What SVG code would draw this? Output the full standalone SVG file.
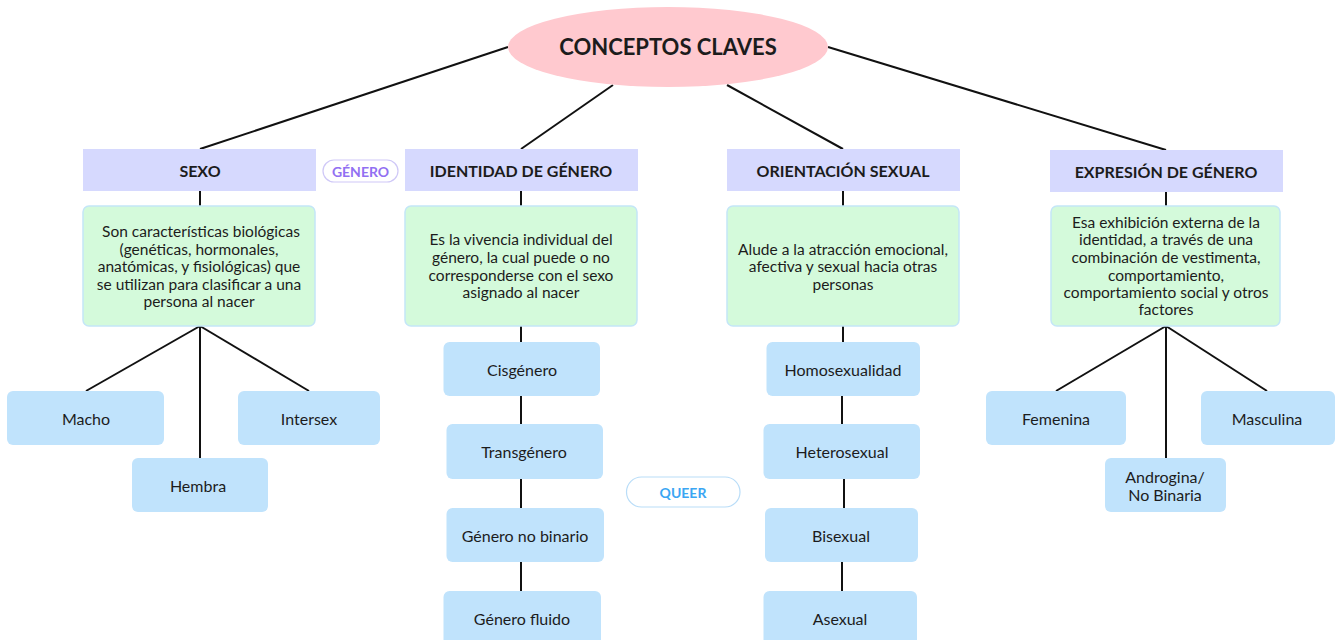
<svg xmlns="http://www.w3.org/2000/svg" width="1342" height="640" viewBox="0 0 1342 640">
<style>
.hdr{fill:#d6d9fe}
.dsc{fill:#d4fadb;stroke:#c4e6f7;stroke-width:1.5}
.leaf{fill:#c0e3fc}
text{font-family:Lato,"Open Sans","Liberation Sans",sans-serif;fill:#1c1c1c;text-anchor:middle;dominant-baseline:central}
.ht{font-size:16px;font-weight:bold}
.dt{font-size:15.5px}
.lt{font-size:16px}
#conn line{stroke:#111;stroke-width:2;fill:none}
</style>
<rect width="1342" height="640" fill="#ffffff"/>
<g id="conn">
<line x1="508" y1="47" x2="200" y2="149"/>
<line x1="613" y1="85" x2="521" y2="149"/>
<line x1="727" y1="85" x2="843" y2="149"/>
<line x1="828" y1="47" x2="1166" y2="150"/>
<line x1="200" y1="191" x2="200" y2="206"/>
<line x1="521" y1="191" x2="521" y2="206"/>
<line x1="843" y1="191" x2="843" y2="206"/>
<line x1="1166" y1="192" x2="1166" y2="206"/>
<line x1="200" y1="326" x2="86" y2="391"/>
<line x1="200" y1="326" x2="200" y2="458"/>
<line x1="200" y1="326" x2="309" y2="391"/>
<line x1="521" y1="326" x2="521" y2="342"/>
<line x1="521" y1="396" x2="521" y2="424"/>
<line x1="521" y1="479" x2="521" y2="508"/>
<line x1="521" y1="562" x2="521" y2="591"/>
<line x1="843" y1="326" x2="843" y2="342"/>
<line x1="842" y1="396" x2="842" y2="424"/>
<line x1="844" y1="479" x2="844" y2="508"/>
<line x1="842" y1="562" x2="842" y2="591"/>
<line x1="1166" y1="326" x2="1056" y2="391"/>
<line x1="1166" y1="326" x2="1166" y2="458"/>
<line x1="1166" y1="326" x2="1267" y2="391"/>
</g>
<g id="root">
<ellipse cx="668" cy="47" rx="160" ry="40" fill="#ffc9cf"/>
<text x="668" y="46" style="font-size:22px;font-weight:bold">CONCEPTOS CLAVES</text>
</g>
<g id="genero-tag">
<rect x="323" y="160" width="75" height="22" rx="11" fill="#fff" stroke="#cfc8f7" stroke-width="1.2"/>
<text x="360.5" y="171" style="font-size:14px;font-weight:bold;fill:#9270f2">GÉNERO</text>
</g>
<g id="queer-tag">
<rect x="626.5" y="477" width="113.5" height="30" rx="15" fill="#fff" stroke="#b9ddf8" stroke-width="1.2"/>
<text x="683" y="492" style="font-size:14px;font-weight:bold;fill:#3ba6f3">QUEER</text>
</g>
<g id="sexo">
<rect class="hdr" x="83" y="149" width="233" height="42"/>
<text class="ht" x="200" y="170">SEXO</text>
</g>
<g id="identidad">
<rect class="hdr" x="405" y="149" width="233" height="42"/>
<text class="ht" x="521" y="170">IDENTIDAD DE GÉNERO</text>
</g>
<g id="orientacion">
<rect class="hdr" x="727" y="149" width="233" height="42"/>
<text class="ht" x="843" y="170">ORIENTACIÓN SEXUAL</text>
</g>
<g id="expresion">
<rect class="hdr" x="1050" y="150" width="233" height="42"/>
<text class="ht" x="1166" y="171">EXPRESIÓN DE GÉNERO</text>
</g>
<g id="sexo-desc">
<rect class="dsc" x="83" y="206" width="232" height="120" rx="6"/>
<text class="dt" x="201" y="231">Son características biológicas</text>
<text class="dt" x="199" y="249">(genéticas, hormonales,</text>
<text class="dt" x="199" y="266">anatómicas, y fisiológicas) que</text>
<text class="dt" x="199" y="284">se utilizan para clasificar a una</text>
<text class="dt" x="199" y="301">persona al nacer</text>
</g>
<g id="identidad-desc">
<rect class="dsc" x="405" y="206" width="232" height="120" rx="6"/>
<text class="dt" x="521" y="239">Es la vivencia individual del</text>
<text class="dt" x="521" y="257">género, la cual puede o no</text>
<text class="dt" x="521" y="275">corresponderse con el sexo</text>
<text class="dt" x="521" y="292">asignado al nacer</text>
</g>
<g id="orientacion-desc">
<rect class="dsc" x="727" y="206" width="232" height="120" rx="6"/>
<text class="dt" x="843" y="249">Alude a la atracción emocional,</text>
<text class="dt" x="843" y="266">afectiva y sexual hacia otras</text>
<text class="dt" x="843" y="284">personas</text>
</g>
<g id="expresion-desc">
<rect class="dsc" x="1051" y="206" width="229" height="120" rx="6"/>
<text class="dt" x="1166" y="222">Esa exhibición externa de la</text>
<text class="dt" x="1166" y="239">identidad, a través de una</text>
<text class="dt" x="1166" y="257">combinación de vestimenta,</text>
<text class="dt" x="1166" y="275">comportamiento,</text>
<text class="dt" x="1166" y="292">comportamiento social y otros</text>
<text class="dt" x="1166" y="309">factores</text>
</g>
<g id="macho">
<rect class="leaf" x="7" y="391" width="157" height="54" rx="6"/>
<text class="lt" x="86" y="418">Macho</text>
</g>
<g id="intersex">
<rect class="leaf" x="238" y="391" width="142" height="54" rx="6"/>
<text class="lt" x="309" y="418">Intersex</text>
</g>
<g id="hembra">
<rect class="leaf" x="132" y="458" width="136" height="54" rx="6"/>
<text class="lt" x="198" y="485">Hembra</text>
</g>
<g id="cisgenero">
<rect class="leaf" x="443.5" y="342" width="156.5" height="54" rx="6"/>
<text class="lt" x="522" y="369">Cisgénero</text>
</g>
<g id="transgenero">
<rect class="leaf" x="446.5" y="424" width="156.5" height="55" rx="6"/>
<text class="lt" x="524" y="451">Transgénero</text>
</g>
<g id="nobinario">
<rect class="leaf" x="446.5" y="508" width="157.5" height="54" rx="6"/>
<text class="lt" x="525" y="535">Género no binario</text>
</g>
<g id="fluido">
<rect class="leaf" x="443.5" y="591" width="157.5" height="56" rx="6"/>
<text class="lt" x="522" y="618">Género fluido</text>
</g>
<g id="homosexualidad">
<rect class="leaf" x="766.5" y="342" width="153.5" height="54" rx="6"/>
<text class="lt" x="843" y="369">Homosexualidad</text>
</g>
<g id="heterosexual">
<rect class="leaf" x="763.5" y="424" width="156.5" height="55" rx="6"/>
<text class="lt" x="842" y="451">Heterosexual</text>
</g>
<g id="bisexual">
<rect class="leaf" x="765" y="508" width="153" height="54" rx="6"/>
<text class="lt" x="841" y="535">Bisexual</text>
</g>
<g id="asexual">
<rect class="leaf" x="763.5" y="591" width="153.5" height="56" rx="6"/>
<text class="lt" x="840" y="618">Asexual</text>
</g>
<g id="femenina">
<rect class="leaf" x="986" y="391" width="140" height="54" rx="6"/>
<text class="lt" x="1056" y="418">Femenina</text>
</g>
<g id="masculina">
<rect class="leaf" x="1201" y="391" width="134" height="54" rx="6"/>
<text class="lt" x="1267" y="418">Masculina</text>
</g>
<g id="androgina">
<rect class="leaf" x="1105" y="458" width="121" height="54" rx="6"/>
<text class="lt" x="1165" y="476">Androgina/</text>
<text class="lt" x="1165" y="494">No Binaria</text>
</g>
</svg>
